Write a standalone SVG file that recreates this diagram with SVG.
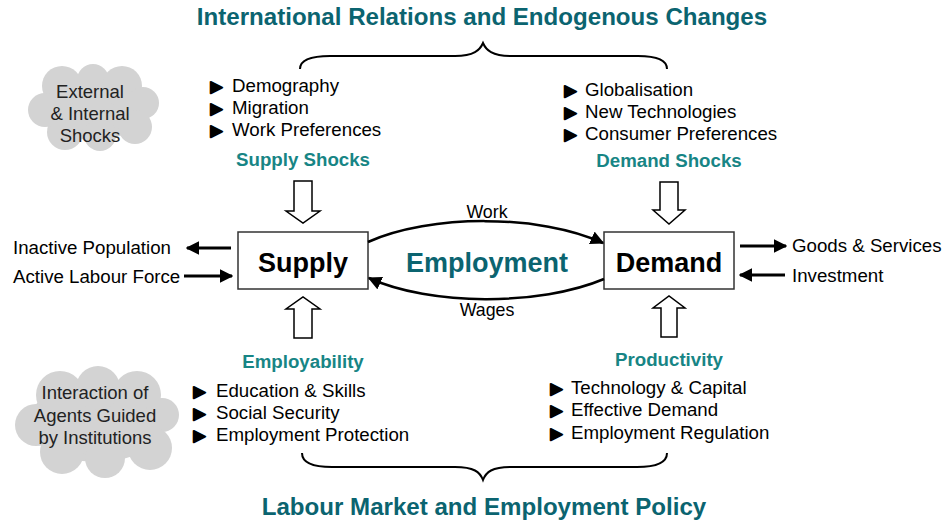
<svg xmlns="http://www.w3.org/2000/svg" width="942" height="521" viewBox="0 0 942 521">
<defs>
<style>
text{font-family:"Liberation Sans",Arial,sans-serif;}
.title{font-size:24.1px;font-weight:bold;fill:#0b6470;text-anchor:middle;}
.sub{font-size:18.7px;font-weight:bold;fill:#178585;text-anchor:middle;}
.item{font-size:18.7px;fill:#000;}
.tri{font-size:19px;stroke:#000;stroke-width:2;stroke-linejoin:round;}
.cloudtxt{font-size:18.5px;fill:#222;text-anchor:middle;}
.box{fill:#fff;stroke:#333;stroke-width:1.5;}
.boxtxt{font-size:27px;font-weight:bold;fill:#000;text-anchor:middle;}
.emp{font-size:27px;font-weight:bold;fill:#0b6470;text-anchor:middle;}
.hollow{fill:#fff;stroke:#000;stroke-width:1.5;stroke-linejoin:miter;}
.brace{fill:none;stroke:#000;stroke-width:2;}
.conn{fill:none;stroke:#000;stroke-width:2.5;}
.straight{fill:none;stroke:#000;stroke-width:3;}
.cloud{fill:#d3d3d3;}
.lbl{font-size:17.8px;fill:#000;text-anchor:middle;}
</style>
<marker id="ah" viewBox="0 0 10 10" refX="9" refY="5" markerWidth="5.5" markerHeight="5.5" orient="auto" markerUnits="strokeWidth">
<path d="M0,0 L10,5 L0,10 Z" fill="#000"/>
</marker>
<marker id="ah2" viewBox="0 0 10 10" refX="9" refY="5" markerWidth="4.5" markerHeight="4.5" orient="auto" markerUnits="strokeWidth">
<path d="M0,0 L10,5 L0,10 Z" fill="#000"/>
</marker>
</defs>

<g id="title-top"><text class="title" x="482" y="25">International Relations and Endogenous Changes</text></g>
<g id="title-bottom"><text class="title" x="484" y="515">Labour Market and Employment Policy</text></g>

<g id="brace-top"><path class="brace" d="M300,69 C300,60 310,56 330,56 L455,56 C474,56 480,50 483,43 C486,50 492,56 511,56 L638,56 C658,56 667,60 667,69"/></g>
<g id="brace-bottom"><path class="brace" d="M302,453 C302,462 312,467 332,467 L455,467 C474,467 480,472 483,480 C486,472 492,467 511,467 L637,467 C657,467 667,462 667,453"/></g>

<g id="cloud-shocks">
<g class="cloud">
<ellipse cx="93" cy="108" rx="55" ry="32"/>
<circle cx="62" cy="86" r="20"/>
<circle cx="93" cy="80" r="16"/>
<circle cx="122" cy="86" r="20"/>
<circle cx="143" cy="103" r="16"/>
<circle cx="135" cy="127" r="17"/>
<circle cx="100" cy="135" r="16"/>
<circle cx="65" cy="132" r="18"/>
<circle cx="45" cy="110" r="17"/>
</g>
<text class="cloudtxt" x="90" y="98">External</text>
<text class="cloudtxt" x="90" y="120">&amp; Internal</text>
<text class="cloudtxt" x="90" y="142">Shocks</text>
</g>

<g id="cloud-institutions">
<g class="cloud">
<ellipse cx="97" cy="422" rx="68" ry="40"/>
<circle cx="60" cy="395" r="24"/>
<circle cx="98" cy="388" r="22"/>
<circle cx="137" cy="395" r="24"/>
<circle cx="162" cy="415" r="17"/>
<circle cx="150" cy="448" r="22"/>
<circle cx="105" cy="458" r="20"/>
<circle cx="62" cy="452" r="22"/>
<circle cx="36" cy="425" r="21"/>
</g>
<text class="cloudtxt" x="95" y="399">Interaction of</text>
<text class="cloudtxt" x="95" y="422">Agents Guided</text>
<text class="cloudtxt" x="95" y="444">by Institutions</text>
</g>

<g id="supply-shocks">
<text class="item"><tspan class="tri" x="207" y="93">►</tspan><tspan x="232" y="92">Demography</tspan><tspan class="tri" x="207" y="115">►</tspan><tspan x="232" y="114">Migration</tspan><tspan class="tri" x="207" y="137">►</tspan><tspan x="232" y="136">Work Preferences</tspan></text>
<text class="sub" x="303" y="166">Supply Shocks</text>
</g>

<g id="demand-shocks">
<text class="item"><tspan class="tri" x="561" y="97">►</tspan><tspan x="585" y="96">Globalisation</tspan><tspan class="tri" x="561" y="119">►</tspan><tspan x="585" y="118">New Technologies</tspan><tspan class="tri" x="561" y="141">►</tspan><tspan x="585" y="140">Consumer Preferences</tspan></text>
<text class="sub" x="669" y="167">Demand Shocks</text>
</g>

<g id="employability">
<text class="sub" x="303" y="368">Employability</text>
<text class="item"><tspan class="tri" x="190" y="398">►</tspan><tspan x="216" y="397">Education &amp; Skills</tspan><tspan class="tri" x="190" y="420">►</tspan><tspan x="216" y="419">Social Security</tspan><tspan class="tri" x="190" y="442">►</tspan><tspan x="216" y="441">Employment Protection</tspan></text>
</g>

<g id="productivity">
<text class="sub" x="669" y="366">Productivity</text>
<text class="item"><tspan class="tri" x="547" y="395">►</tspan><tspan x="571" y="394">Technology &amp; Capital</tspan><tspan class="tri" x="547" y="417">►</tspan><tspan x="571" y="416">Effective Demand</tspan><tspan class="tri" x="547" y="440">►</tspan><tspan x="571" y="439">Employment Regulation</tspan></text>
</g>

<g id="supply">
<rect class="box" x="238" y="232" width="130" height="57"/>
<text class="boxtxt" x="303" y="272">Supply</text>
</g>

<g id="demand">
<rect class="box" x="604" y="232" width="130" height="57"/>
<text class="boxtxt" x="669" y="272">Demand</text>
</g>

<g id="employment"><text class="emp" x="487" y="272">Employment</text></g>

<g id="side-labels">
<text class="item" x="13" y="254">Inactive Population</text>
<text class="item" x="13" y="283">Active Labour Force</text>
<text class="item" x="792" y="252">Goods &amp; Services</text>
<text class="item" x="792" y="282">Investment</text>
</g>

<g id="connectors">
<path class="hollow" d="M294,181 L312,181 L312,211 L320,211 L303,223 L286,211 L294,211 Z"/>
<path class="hollow" d="M660,182 L678,182 L678,210 L685,210 L669,224 L653,210 L660,210 Z"/>
<path class="hollow" d="M294,338 L312,338 L312,309 L320,309 L303,297 L286,309 L294,309 Z"/>
<path class="hollow" d="M661,337 L677,337 L677,308 L685,308 L669,296 L653,308 L661,308 Z"/>
<path class="conn" marker-end="url(#ah)" d="M368,242 C430,214 540,214 603,243"/>
<path class="conn" marker-end="url(#ah)" d="M604,279 C540,306 430,306 369,278"/>
<path class="straight" marker-end="url(#ah2)" d="M231,248 L187,248"/>
<path class="straight" marker-end="url(#ah2)" d="M184,276 L232,276"/>
<path class="straight" marker-end="url(#ah2)" d="M740,246 L786,246"/>
<path class="straight" marker-end="url(#ah2)" d="M785,275 L740,275"/>
<text class="lbl" x="487" y="218">Work</text>
<text class="lbl" x="487" y="316">Wages</text>
</g>
</svg>
